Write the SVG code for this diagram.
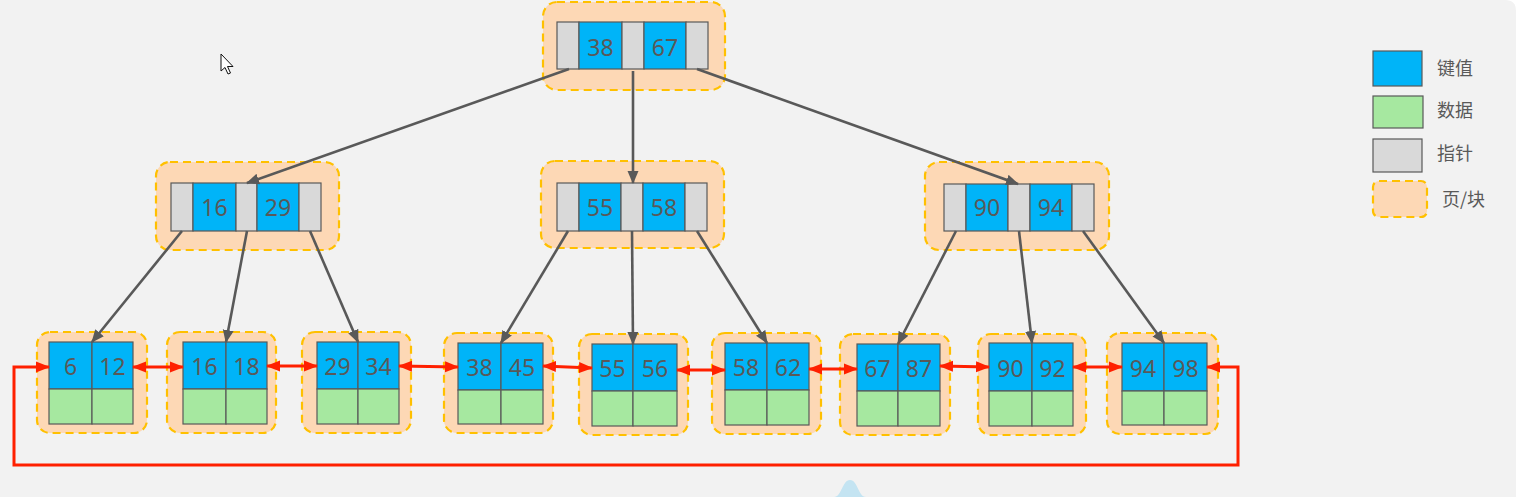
<svg xmlns="http://www.w3.org/2000/svg" width="1520" height="497" viewBox="0 0 1520 497">
<style>
.page{fill:#fdd8b5;stroke:#ffc000;stroke-width:2.2;stroke-dasharray:8 5}
.k{fill:#00b4f8;stroke:#595959;stroke-width:1.2}
.d{fill:#a6e8a0;stroke:#595959;stroke-width:1.2}
.p{fill:#d9d9d9;stroke:#595959;stroke-width:1.2}
.t{font-family:"Noto Sans","Open Sans","DejaVu Sans",sans-serif;font-size:23px;fill:#595959;text-anchor:middle}
.lg{font-family:"Noto Sans CJK SC","Noto Sans",sans-serif;font-size:18px;fill:#595959}
.g{stroke:#595959;stroke-width:2.6;fill:none}
.r{stroke:#ff2000;stroke-width:3;fill:none}
</style>
<defs>
<marker id="ga" markerUnits="userSpaceOnUse" markerWidth="13" markerHeight="12" viewBox="0 0 13 12" refX="12" refY="6" orient="auto"><path d="M0,0.5 L13,6 L0,11.5 Z" fill="#595959"/></marker>
<marker id="ra" markerUnits="userSpaceOnUse" markerWidth="14" markerHeight="12" viewBox="0 0 14 12" refX="13" refY="6" orient="auto-start-reverse"><path d="M0,0.5 L14,6 L0,11.5 Z" fill="#ff2000"/></marker>
</defs>
<rect x="0" y="0" width="1520" height="497" fill="#ffffff"/>
<path d="M0,0 H1505 Q1516,0 1516,11 V497 H0 Z" fill="#f2f2f2"/>
<path d="M834,497 C842,497 842,480 850,480 C858,480 858,497 866,497 Z" fill="#c4e4f2"/>
<path d="M221,54 L221,71 L225,67.5 L228,74 L230.5,73 L227.5,66.5 L233,66.5 Z" fill="#ffffff" stroke="#111111" stroke-width="1"/>

<g id="root">
<rect class="page" x="543" y="2" width="182" height="88" rx="14"/>
<rect class="p" x="557" y="22" width="22" height="47"/>
<rect class="k" x="579" y="22" width="43" height="47"/>
<rect class="p" x="622" y="22" width="22" height="47"/>
<rect class="k" x="644" y="22" width="42" height="47"/>
<rect class="p" x="686" y="22" width="22" height="47"/>
<text class="t" x="600.5" y="56">38</text>
<text class="t" x="665" y="56">67</text>
</g>

<g id="mid-left">
<rect class="page" x="156" y="162" width="183" height="88" rx="14"/>
<rect class="p" x="171" y="183" width="22" height="48"/>
<rect class="k" x="193" y="183" width="43" height="48"/>
<rect class="p" x="236" y="183" width="21" height="48"/>
<rect class="k" x="257" y="183" width="42" height="48"/>
<rect class="p" x="299" y="183" width="22" height="48"/>
<text class="t" x="214.5" y="215.5">16</text>
<text class="t" x="278" y="215.5">29</text>
</g>

<g id="mid-center">
<rect class="page" x="541" y="161" width="183" height="87" rx="14"/>
<rect class="p" x="557" y="183" width="22" height="48"/>
<rect class="k" x="579" y="183" width="42" height="48"/>
<rect class="p" x="621" y="183" width="22" height="48"/>
<rect class="k" x="643" y="183" width="42" height="48"/>
<rect class="p" x="685" y="183" width="22" height="48"/>
<text class="t" x="600" y="215.5">55</text>
<text class="t" x="664" y="215.5">58</text>
</g>

<g id="mid-right">
<rect class="page" x="925" y="162" width="184" height="88" rx="14"/>
<rect class="p" x="944" y="184" width="22" height="47"/>
<rect class="k" x="966" y="184" width="42" height="47"/>
<rect class="p" x="1008" y="184" width="22" height="47"/>
<rect class="k" x="1030" y="184" width="42" height="47"/>
<rect class="p" x="1072" y="184" width="22" height="47"/>
<text class="t" x="987" y="216">90</text>
<text class="t" x="1051" y="216">94</text>
</g>

<g id="leaf-1">
<rect class="page" x="37" y="332" width="110" height="101" rx="13"/>
<rect class="k" x="49" y="342" width="43" height="47"/><rect class="k" x="92" y="342" width="41" height="47"/>
<rect class="d" x="49" y="389" width="43" height="35"/><rect class="d" x="92" y="389" width="41" height="35"/>
<text class="t" x="70.5" y="374.5">6</text><text class="t" x="112.5" y="374.5">12</text>
</g>
<g id="leaf-2">
<rect class="page" x="167" y="332" width="109" height="101" rx="13"/>
<rect class="k" x="183" y="342" width="43" height="47"/><rect class="k" x="226" y="342" width="41" height="47"/>
<rect class="d" x="183" y="389" width="43" height="35"/><rect class="d" x="226" y="389" width="41" height="35"/>
<text class="t" x="204.5" y="374.5">16</text><text class="t" x="246.5" y="374.5">18</text>
</g>
<g id="leaf-3">
<rect class="page" x="302" y="332" width="109" height="101" rx="13"/>
<rect class="k" x="317" y="342" width="41" height="47"/><rect class="k" x="358" y="342" width="41" height="47"/>
<rect class="d" x="317" y="389" width="41" height="35"/><rect class="d" x="358" y="389" width="41" height="35"/>
<text class="t" x="337.5" y="374.5">29</text><text class="t" x="378.5" y="374.5">34</text>
</g>
<g id="leaf-4">
<rect class="page" x="444" y="333" width="109" height="100" rx="13"/>
<rect class="k" x="458" y="343" width="43" height="47"/><rect class="k" x="501" y="343" width="42" height="47"/>
<rect class="d" x="458" y="390" width="43" height="34"/><rect class="d" x="501" y="390" width="42" height="34"/>
<text class="t" x="479.5" y="375.5">38</text><text class="t" x="522" y="375.5">45</text>
</g>
<g id="leaf-5">
<rect class="page" x="579" y="334" width="109" height="101" rx="13"/>
<rect class="k" x="592" y="344" width="41" height="47"/><rect class="k" x="633" y="344" width="44" height="47"/>
<rect class="d" x="592" y="391" width="41" height="35"/><rect class="d" x="633" y="391" width="44" height="35"/>
<text class="t" x="612.5" y="376.5">55</text><text class="t" x="655" y="376.5">56</text>
</g>
<g id="leaf-6">
<rect class="page" x="712" y="333" width="109" height="101" rx="13"/>
<rect class="k" x="725" y="343" width="42" height="47"/><rect class="k" x="767" y="343" width="42" height="47"/>
<rect class="d" x="725" y="390" width="42" height="35"/><rect class="d" x="767" y="390" width="42" height="35"/>
<text class="t" x="746" y="375.5">58</text><text class="t" x="788" y="375.5">62</text>
</g>
<g id="leaf-7">
<rect class="page" x="840" y="334" width="110" height="101" rx="13"/>
<rect class="k" x="857" y="344" width="41" height="47"/><rect class="k" x="898" y="344" width="42" height="47"/>
<rect class="d" x="857" y="391" width="41" height="35"/><rect class="d" x="898" y="391" width="42" height="35"/>
<text class="t" x="877.5" y="376.5">67</text><text class="t" x="919" y="376.5">87</text>
</g>
<g id="leaf-8">
<rect class="page" x="978" y="334" width="108" height="101" rx="13"/>
<rect class="k" x="989" y="343" width="43" height="48"/><rect class="k" x="1032" y="343" width="41" height="48"/>
<rect class="d" x="989" y="391" width="43" height="35"/><rect class="d" x="1032" y="391" width="41" height="35"/>
<text class="t" x="1010.5" y="376.5">90</text><text class="t" x="1052.5" y="376.5">92</text>
</g>
<g id="leaf-9">
<rect class="page" x="1107" y="333" width="111" height="101" rx="13"/>
<rect class="k" x="1122" y="343" width="42" height="48"/><rect class="k" x="1164" y="343" width="43" height="48"/>
<rect class="d" x="1122" y="391" width="42" height="34"/><rect class="d" x="1164" y="391" width="43" height="34"/>
<text class="t" x="1143" y="376.5">94</text><text class="t" x="1185.5" y="376.5">98</text>
</g>

<g id="legend">
<rect class="k" x="1373" y="51" width="49" height="35"/>
<rect class="d" x="1373" y="96" width="50" height="32"/>
<rect class="p" x="1373" y="139" width="49" height="33"/>
<rect class="page" x="1373" y="181" width="54" height="36" rx="6"/>
<text class="lg" x="1437" y="75">键值</text>
<text class="lg" x="1437" y="117">数据</text>
<text class="lg" x="1437" y="160">指针</text>
<text class="lg" x="1442" y="206">页/块</text>
</g>

<g id="connectors">
<line class="g" x1="569" y1="69" x2="247" y2="183" marker-end="url(#ga)"/>
<line class="g" x1="633" y1="71" x2="633" y2="183" marker-end="url(#ga)"/>
<line class="g" x1="697" y1="69" x2="1018" y2="184" marker-end="url(#ga)"/>
<line class="g" x1="182" y1="231" x2="92" y2="342" marker-end="url(#ga)"/>
<line class="g" x1="247" y1="231" x2="226" y2="342" marker-end="url(#ga)"/>
<line class="g" x1="310" y1="231" x2="358" y2="342" marker-end="url(#ga)"/>
<line class="g" x1="568" y1="231" x2="501" y2="343" marker-end="url(#ga)"/>
<line class="g" x1="632" y1="231" x2="633" y2="344" marker-end="url(#ga)"/>
<line class="g" x1="697" y1="231" x2="767" y2="343" marker-end="url(#ga)"/>
<line class="g" x1="956" y1="231" x2="898" y2="344" marker-end="url(#ga)"/>
<line class="g" x1="1019" y1="231" x2="1032" y2="343" marker-end="url(#ga)"/>
<line class="g" x1="1083" y1="231" x2="1164" y2="343" marker-end="url(#ga)"/>
<line class="r" x1="133" y1="367" x2="183" y2="367" marker-start="url(#ra)" marker-end="url(#ra)"/>
<line class="r" x1="267" y1="366" x2="317" y2="366" marker-start="url(#ra)" marker-end="url(#ra)"/>
<line class="r" x1="399" y1="366" x2="458" y2="367" marker-start="url(#ra)" marker-end="url(#ra)"/>
<line class="r" x1="543" y1="366" x2="592" y2="368" marker-start="url(#ra)" marker-end="url(#ra)"/>
<line class="r" x1="677" y1="370" x2="725" y2="370" marker-start="url(#ra)" marker-end="url(#ra)"/>
<line class="r" x1="809" y1="369" x2="857" y2="369" marker-start="url(#ra)" marker-end="url(#ra)"/>
<line class="r" x1="940" y1="366" x2="989" y2="367" marker-start="url(#ra)" marker-end="url(#ra)"/>
<line class="r" x1="1073" y1="367" x2="1122" y2="367" marker-start="url(#ra)" marker-end="url(#ra)"/>
<path class="r" d="M1207,367 H1238 V465 H14 V367 H49" marker-start="url(#ra)" marker-end="url(#ra)"/>
</g>
</svg>
